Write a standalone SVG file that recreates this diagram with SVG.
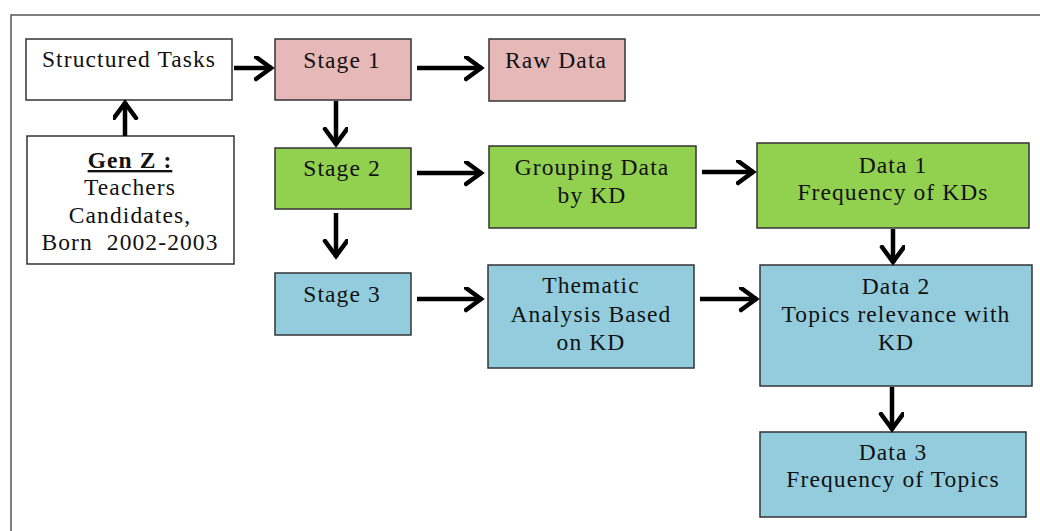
<svg xmlns="http://www.w3.org/2000/svg" width="1040" height="531" viewBox="0 0 1040 531">
<style>
.box{stroke:#333;stroke-width:1.5}
.w{fill:#ffffff}.p{fill:#e6b8b7}.g{fill:#92d050}.b{fill:#93cddd}
text{font-family:"Liberation Serif","Times New Roman",serif;font-size:23.5px;letter-spacing:1.1px;fill:#111;text-anchor:middle}
.c line{stroke:#000;stroke-width:4.5}
</style>
<defs>
<marker id="ah" markerUnits="userSpaceOnUse" markerWidth="30" markerHeight="30" refX="18" refY="12" orient="auto">
<polyline points="2,1 17,12 2,23" fill="none" stroke="#000" stroke-width="4.5" stroke-linejoin="miter" stroke-linecap="round"/>
</marker>
</defs>
<rect x="11" y="15" width="1040" height="530" fill="#fff" stroke="#555" stroke-width="1.5"/>
<g id="n-structured"><rect class="box w" x="26" y="39" width="206" height="61"/><text x="129" y="67">Structured Tasks</text></g>
<g id="n-genz"><rect class="box w" x="27" y="136" width="207" height="128"/>
<text x="130" y="168" font-weight="bold" text-decoration="underline">Gen Z :</text>
<text x="130" y="195">Teachers</text><text x="130" y="223">Candidates,</text><text x="130" y="250" xml:space="preserve">Born  2002-2003</text></g>
<g id="n-stage1"><rect class="box p" x="275" y="39" width="136" height="61"/><text x="342" y="68">Stage 1</text></g>
<g id="n-raw"><rect class="box p" x="489" y="39" width="136" height="62"/><text x="556" y="68">Raw Data</text></g>
<g id="n-stage2"><rect class="box g" x="275" y="148" width="136" height="61"/><text x="342" y="176">Stage 2</text></g>
<g id="n-grouping"><rect class="box g" x="489" y="146" width="207" height="82"/><text x="592" y="175">Grouping Data</text><text x="592" y="203">by KD</text></g>
<g id="n-data1"><rect class="box g" x="757" y="143" width="272" height="85"/><text x="893" y="173">Data 1</text><text x="893" y="200">Frequency of KDs</text></g>
<g id="n-stage3"><rect class="box b" x="275" y="273" width="136" height="62"/><text x="342" y="302">Stage 3</text></g>
<g id="n-thematic"><rect class="box b" x="488" y="265" width="206" height="103"/><text x="591" y="293">Thematic</text><text x="591" y="322">Analysis Based</text><text x="591" y="350">on KD</text></g>
<g id="n-data2"><rect class="box b" x="760" y="265" width="272" height="121"/><text x="896" y="294">Data 2</text><text x="896" y="322">Topics relevance with</text><text x="896" y="350">KD</text></g>
<g id="n-data3"><rect class="box b" x="760" y="432" width="266" height="85"/><text x="893" y="460">Data 3</text><text x="893" y="487">Frequency of Topics</text></g>
<g id="connectors" class="c">
<line x1="234" y1="68" x2="272" y2="68" marker-end="url(#ah)"/>
<line x1="125" y1="136" x2="125" y2="102" marker-end="url(#ah)"/>
<line x1="417" y1="68" x2="482" y2="68" marker-end="url(#ah)"/>
<line x1="336" y1="101" x2="336" y2="145" marker-end="url(#ah)"/>
<line x1="336" y1="213" x2="336" y2="257" marker-end="url(#ah)"/>
<line x1="417" y1="173" x2="482" y2="173" marker-end="url(#ah)"/>
<line x1="702" y1="172" x2="754" y2="172" marker-end="url(#ah)"/>
<line x1="893" y1="229" x2="893" y2="263" marker-end="url(#ah)"/>
<line x1="417" y1="299" x2="482" y2="299" marker-end="url(#ah)"/>
<line x1="700" y1="299" x2="757" y2="299" marker-end="url(#ah)"/>
<line x1="892" y1="387" x2="892" y2="430" marker-end="url(#ah)"/>
</g>
</svg>
